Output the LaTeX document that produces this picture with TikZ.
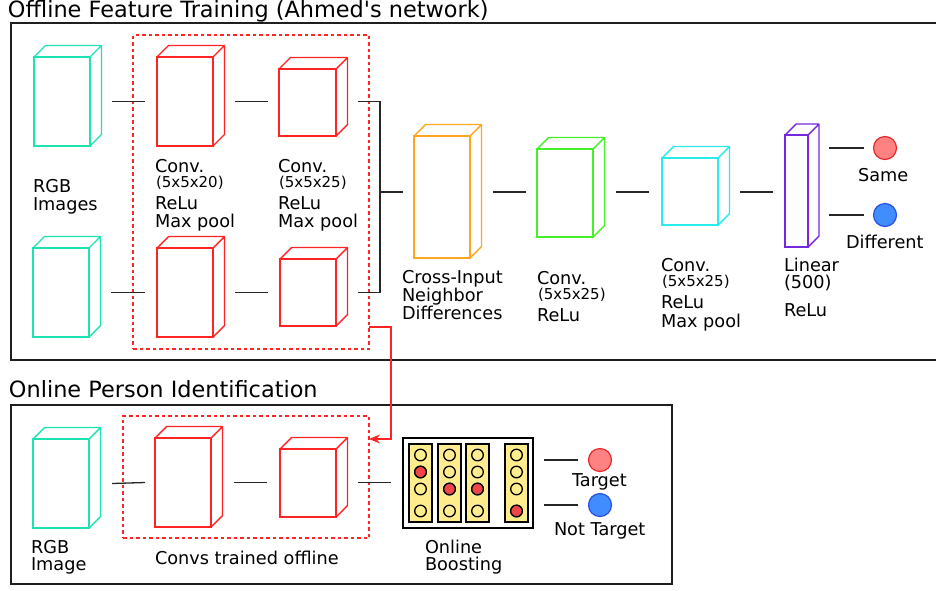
\documentclass[tikz,border=0pt]{standalone}
\usepackage{fontspec}
\setmainfont{DejaVu Sans}[Ligatures=TeXOff]
\usetikzlibrary{arrows.meta,calc}

\definecolor{rgbcol}{RGB}{29,226,178}
\definecolor{convred}{RGB}{255,35,35}
\definecolor{crosscol}{RGB}{255,165,30}
\definecolor{convgreen}{RGB}{70,240,40}
\definecolor{convcyan}{RGB}{40,235,235}
\definecolor{lincol}{RGB}{120,40,220}
\definecolor{samefill}{RGB}{255,130,130}
\definecolor{sameline}{RGB}{230,40,40}
\definecolor{difffill}{RGB}{65,140,255}
\definecolor{diffline}{RGB}{40,80,230}
\definecolor{boostyel}{RGB}{255,236,140}
\definecolor{dotred}{RGB}{240,70,70}

% a box drawn as a front face node plus its depth edges
% #1 name, #2 colour, #3 x, #4 y, #5 width, #6 height, #7 depth
\newcommand\prism[7]{%
  \node[draw=#2, line width=1.4pt, anchor=north west,
        minimum width=#5pt, minimum height=#6pt] (#1) at (#3,#4) {};
  \draw[#2, line width=1.4pt, line join=round]
    (#1.north west) -- ([shift={(#7,-#7)}]#1.north west)
    -- ([shift={(#7,-#7)}]#1.north east)
    -- ([shift={(#7,-#7)}]#1.south east) -- (#1.south east)
    (#1.north east) -- ([shift={(#7,-#7)}]#1.north east);}

\begin{document}
\begin{tikzpicture}[x=1pt,y=-1pt,
  every node/.style={inner sep=0pt, outer sep=0pt},
  lbl/.style={anchor=base west, font=\fontsize{17.7}{18}\selectfont},
  sml/.style={anchor=base west, font=\fontsize{15}{16}\selectfont},
  ttl/.style={anchor=base west, font=\fontsize{22.4}{24}\selectfont},
  link/.style={draw=black!85, line width=1.3pt},
  frame/.style={draw=black!88, line width=1.9pt},
  group/.style={draw=convred, dash pattern=on 3.5pt off 3pt, line width=1.4pt},
  outcircle/.style={circle, minimum size=23pt, line width=1.2pt},
]
\useasboundingbox (0,0) rectangle (936,590);

% ---------- offline training ----------
\node[ttl] (t1) at (8,17) {Offline Feature Training (Ahmed's network)};
\draw[frame] (11,23) rectangle (945,360);
\node[group, anchor=north west, minimum width=236pt, minimum height=314pt] (grpA) at (133,35) {};

\prism{rgbA}{rgbcol}{34}{57}{56}{89}{11.5}
\prism{rgbB}{rgbcol}{33}{248}{56}{89}{11.5}
\prism{c1A}{convred}{157}{57}{56}{89}{11.5}
\prism{c1B}{convred}{157}{248}{56}{89}{11.5}
\prism{c2A}{convred}{279}{69}{57}{67}{11.5}
\prism{c2B}{convred}{280}{259}{56}{67}{11.5}
\prism{cross}{crosscol}{414}{136}{56}{122}{11.5}
\prism{cgreen}{convgreen}{537}{149}{56}{88}{11.5}
\prism{ccyan}{convcyan}{662}{158}{56}{67}{11.5}
\prism{lin}{lincol}{785}{135}{23}{112}{11}

\node[outcircle, draw=sameline, fill=samefill] (same) at (885,148) {};
\node[outcircle, draw=diffline, fill=difffill] (diff) at (885,215) {};

\coordinate (join) at (380,192);
\draw[link] ([xshift=22pt]rgbA.east) -- ([xshift=-12pt]c1A.west);
\draw[link] ([xshift=22pt]c1A.east) -- ([xshift=-11pt]c2A.west |- c1A.east);
\draw[link] ([xshift=22pt]rgbB.east) -- ([xshift=-12pt]c1B.west);
\draw[link] ([xshift=22pt]c1B.east) -- ([xshift=-12pt]c2B.west |- c1B.east);
\draw[link] ([xshift=22pt]c2A.east |- c1A.east) -| (join);
\draw[link] ([xshift=22pt]c2B.east |- c1B.east) -| (join);
\draw[link] (join) -- ([xshift=-11pt]cross.west |- join);
\draw[link] ([xshift=23pt]cross.east |- join) -- ([xshift=-11pt]cgreen.west |- join);
\draw[link] ([xshift=23pt]cgreen.east |- join) -- ([xshift=-13pt]ccyan.west |- join);
\draw[link] ([xshift=22pt]ccyan.east |- join) -- ([xshift=-12pt]lin.west |- join);
\draw[link] ([xshift=21pt]lin.east |- same) -- ([xshift=-10pt]same.west);
\draw[link] ([xshift=21pt]lin.east |- diff) -- ([xshift=-10pt]diff.west);

\node[lbl] at (33,192) {RGB};
\node[lbl] at (33,210) {Images};
\node[lbl] at (155,172) {Conv.};
\node[sml] at (156,187) {(5x5x20)};
\node[lbl] at (155,209) {ReLu};
\node[lbl] at (155,227) {Max pool};
\node[lbl] at (278,172) {Conv.};
\node[sml] at (279,187) {(5x5x25)};
\node[lbl] at (278,209) {ReLu};
\node[lbl] at (278,227) {Max pool};
\node[lbl] at (402,283) {Cross-Input};
\node[lbl] at (402,301) {Neighbor};
\node[lbl] at (402,319) {Differences};
\node[lbl] at (537,284) {Conv.};
\node[sml] at (538,299) {(5x5x25)};
\node[lbl] at (537,321) {ReLu};
\node[lbl] at (661,271) {Conv.};
\node[sml] at (662,286) {(5x5x25)};
\node[lbl] at (661,308) {ReLu};
\node[lbl] at (661,327) {Max pool};
\node[lbl] at (784,271) {Linear};
\node[lbl] at (784,288) {(500)};
\node[lbl] at (784,316) {ReLu};
\node[lbl] at (858,181) {Same};
\node[lbl] at (846,248) {Different};

% ---------- online identification ----------
\node[ttl] (t2) at (9,397) {Online Person Identification};
\draw[frame] (11,405) rectangle (672,584);
\node[group, anchor=north west, minimum width=246pt, minimum height=122pt] (grpB) at (123,416) {};

\prism{rgbC}{rgbcol}{33}{439}{56}{89}{11.5}
\prism{c1C}{convred}{155}{438}{56}{89}{11.5}
\prism{c2C}{convred}{280}{449}{56}{68}{11.5}

\node[draw=black, fill=white, line width=1.6pt, anchor=north west,
      minimum width=130pt, minimum height=90pt] (boost) at (403,438) {};
\foreach \cx in {409,438,466,505}{
  \draw[fill=boostyel, line width=1.4pt] (\cx,444) rectangle ++(23,78);
  \foreach \ry in {455,472,489,511}
    \draw[fill=boostyel, line width=1.3pt] (\cx+11.5,\ry) circle (5.8);
}
\foreach \cx/\ry in {409/472,438/489,466/489,505/511}
  \draw[fill=dotred, line width=1.3pt] (\cx+11.5,\ry) circle (5.8);

\node[outcircle, draw=sameline, fill=samefill] (tgt) at (600,460) {};
\node[outcircle, draw=diffline, fill=difffill] (ntgt) at (600,505) {};

\draw[link] ([xshift=23pt]rgbC.east) -- ([xshift=-10pt]c1C.west);
\draw[link] ([xshift=23pt]c1C.east) -- ([xshift=-13pt]c2C.west |- c1C.east);
\draw[link] ([xshift=22pt]c2C.east |- c1C.east) -- ([xshift=-12pt]boost.west |- c1C.east);
\draw[link] ([xshift=11pt]boost.east |- tgt) -- ([xshift=-11pt]tgt.west);
\draw[link] ([xshift=11pt]boost.east |- ntgt) -- ([xshift=-11pt]ntgt.west);

% the trained convolutions are handed over to the online stage
\draw[convred, line width=1.2pt, -{Stealth[length=11pt,width=9pt]}]
  ([yshift=22pt]grpA.south east) -- ++(22,0) |- ([yshift=-23pt]grpB.north east);

\node[lbl] at (31,553) {RGB};
\node[lbl] at (31,570) {Image};
\node[lbl] at (155,564) {Convs trained offline};
\node[lbl] at (425,553) {Online};
\node[lbl] at (425,570) {Boosting};
\node[lbl] at (572,486) {Target};
\node[lbl] at (554,535) {Not Target};
\end{tikzpicture}
\end{document}
